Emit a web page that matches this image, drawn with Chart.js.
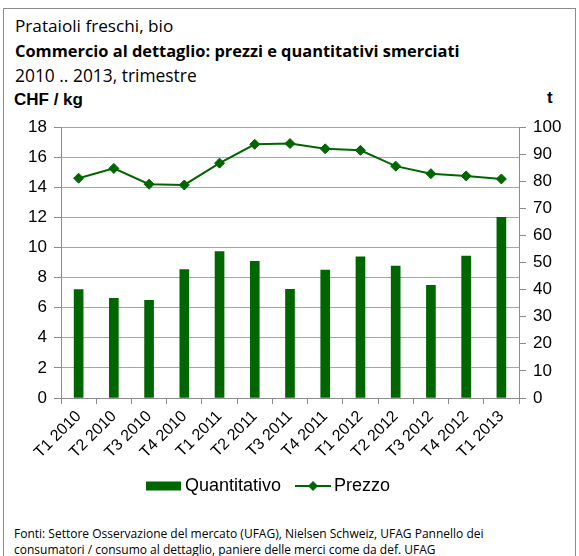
<!DOCTYPE html>
<html>
<head>
<meta charset="utf-8">
<script src="https://cdn.jsdelivr.net/npm/chart.js"></script>
<style>
  body { margin: 0; width: 579px; height: 556px; overflow: hidden; background: #fff; }
  #frame { position: absolute; left: 3px; top: 8px; width: 573px; height: 580px; border: 1px solid #8c8c8c; box-sizing: border-box; }
  .txt { position: absolute; color: #000; white-space: nowrap; font-family: "Open Sans", sans-serif; }
  #t1 { left: 15px; top: 15px; font-size: 17.2px; line-height: 22px; }
  #t2 { left: 15px; top: 40px; font-size: 16.4px; line-height: 22px; font-weight: bold; }
  #t3 { left: 15px; top: 64px; font-size: 17.4px; line-height: 22px; }
  #unitL { left: 14px; top: 90px; font: bold 17px "Liberation Sans", Arial, sans-serif; line-height: 20px; }
  #unitR { left: 547px; top: 88px; font: bold 17px "Liberation Sans", Arial, sans-serif; line-height: 20px; }
  #src { left: 14px; top: 526px; font-size: 12px; line-height: 16px; }
  canvas { position: absolute; left: 0; top: 0; }
</style>
</head>
<body>
<div id="frame"></div>
<div class="txt" id="t1">Prataioli freschi, bio</div>
<div class="txt" id="t2">Commercio al dettaglio: prezzi e quantitativi smerciati</div>
<div class="txt" id="t3">2010 .. 2013, trimestre</div>
<div class="txt" id="unitL">CHF / kg</div>
<div class="txt" id="unitR">t</div>
<div class="txt" id="src">Fonti: Settore Osservazione del mercato (UFAG), Nielsen Schweiz, UFAG Pannello dei<br>consumatori / consumo al dettaglio, paniere delle merci come da def. UFAG</div>
<canvas id="chart" width="579" height="556"></canvas>
<script>
// --- DATA ---
const categories = ['T1 2010', 'T2 2010', 'T3 2010', 'T4 2010', 'T1 2011', 'T2 2011', 'T3 2011',
    'T4 2011', 'T1 2012', 'T2 2012', 'T3 2012', 'T4 2012', 'T1 2013'];
const quantitativo = [40.0, 36.8, 36.0, 47.4, 54.0, 50.4, 40.1, 47.2, 52.1, 48.7, 41.6, 52.4, 66.7]; // t
const prezzo = [14.6, 15.25, 14.2, 14.15, 15.6, 16.85, 16.9, 16.55, 16.45, 15.4, 14.9, 14.75, 14.55]; // CHF/kg
const prezzoTicks = [0, 18, 2];   // min, max, step
const quantTicks = [0, 100, 10];

const green = '#006600';
const axisGrey = '#8c8c8c';
const gridGrey = '#a6a6a6';
const tickFont = { family: '"Liberation Sans", Arial, sans-serif', size: 17 };

// legend markers drawn as small canvases
function legendBox() {
    const c = document.createElement('canvas');
    c.width = 36; c.height = 12;
    const g = c.getContext('2d');
    g.fillStyle = green;
    g.fillRect(0, 1.5, 35, 9);
    return c;
}
function legendLine() {
    const c = document.createElement('canvas');
    c.width = 36; c.height = 12;
    const g = c.getContext('2d');
    g.strokeStyle = green; g.lineWidth = 2;
    g.beginPath(); g.moveTo(0, 6); g.lineTo(36, 6); g.stroke();
    g.fillStyle = green;
    g.beginPath(); g.moveTo(18, 1); g.lineTo(23, 6); g.lineTo(18, 11); g.lineTo(13, 6); g.closePath(); g.fill();
    return c;
}
const markers = [legendBox(), legendLine()];

// move the legend to where the original puts it
const legendShift = {
    id: 'legendShift',
    afterLayout(chart) {
        chart.legend.left = 132;
    }
};

new Chart(document.getElementById('chart'), {
    data: {
        labels: categories,
        datasets: [
            {
                type: 'bar',
                label: 'Quantitativo',
                data: quantitativo,
                yAxisID: 'y2',
                backgroundColor: green,
                barThickness: 9
            },
            {
                type: 'line',
                label: 'Prezzo',
                data: prezzo,
                yAxisID: 'y',
                borderColor: green,
                borderWidth: 2,
                pointStyle: 'rectRot',
                pointRadius: 5,
                pointBackgroundColor: green,
                pointBorderColor: green,
                pointBorderWidth: 1
            }
        ]
    },
    options: {
        responsive: false,
        animation: false,
        devicePixelRatio: 1,
        layout: { padding: { top: 127, left: 0, right: 0, bottom: 51 } },
        plugins: {
            tooltip: { enabled: false },
            legend: {
                position: 'bottom',
                align: 'start',
                labels: {
                    usePointStyle: true,
                    pointStyleWidth: 24,
                    padding: 20,
                    color: '#000',
                    font: { family: '"Liberation Sans", Arial, sans-serif', size: 18 },
                    generateLabels(chart) {
                        const items = Chart.defaults.plugins.legend.labels.generateLabels(chart);
                        items.forEach((it, i) => { it.pointStyle = markers[i]; });
                        return items;
                    }
                }
            }
        },
        scales: {
            x: {
                offset: true,
                grid: { offset: true, drawOnChartArea: false, color: axisGrey, tickLength: 6 },
                border: { color: axisGrey, width: 1 },
                ticks: {
                    minRotation: 45, maxRotation: 45, color: '#000', padding: 3,
                    font: { family: '"Liberation Sans", Arial, sans-serif', size: 16 }
                },
                afterFit(s) { s.height = 59; }
            },
            y: {
                position: 'left',
                min: prezzoTicks[0], max: prezzoTicks[1],
                ticks: { stepSize: prezzoTicks[2], color: '#000', font: tickFont, padding: 7 },
                grid: { color: gridGrey, tickColor: axisGrey, tickLength: 7 },
                border: { color: axisGrey, width: 1 },
                afterFit(s) { s.width = 61; }
            },
            y2: {
                position: 'right',
                min: quantTicks[0], max: quantTicks[1],
                ticks: { stepSize: quantTicks[2], color: '#000', font: tickFont, padding: 7 },
                grid: { drawOnChartArea: false, color: axisGrey, tickLength: 7 },
                border: { color: axisGrey, width: 1 },
                afterFit(s) { s.width = 60; }
            }
        }
    },
    plugins: [legendShift]
});
</script>
</body>
</html>
